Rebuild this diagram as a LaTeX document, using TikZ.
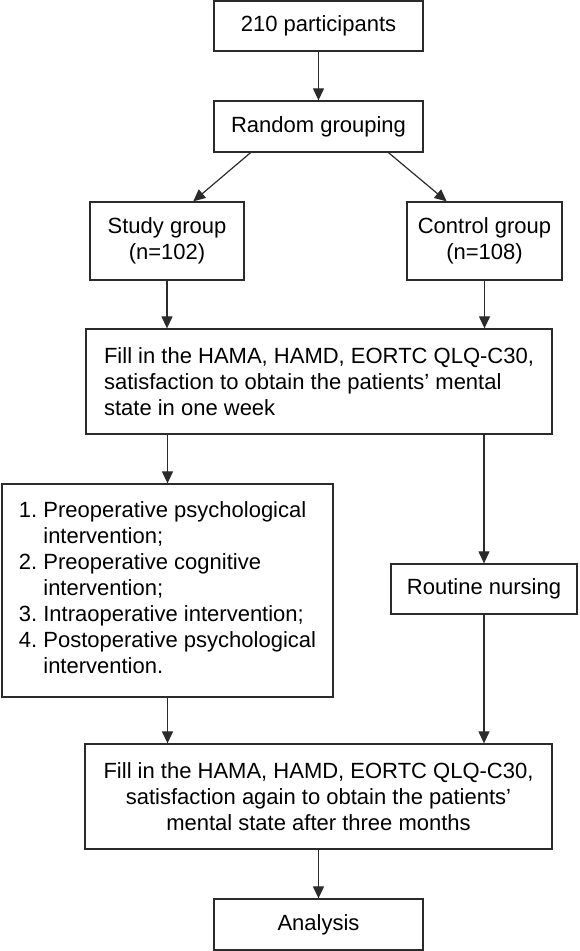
\documentclass[tikz,border=0pt]{standalone}
\usepackage{fontspec}
\setmainfont{Liberation Sans}
\usetikzlibrary{arrows.meta,calc}
\definecolor{linegray}{HTML}{2B2B2B}
\begin{document}
\begin{tikzpicture}[x=1pt,y=-1pt,
  box/.style={draw=linegray, line width=1.3pt, rectangle, inner sep=0pt,
    font=\fontsize{22}{26}\selectfont, text=black},
  arr/.style={draw=linegray, line width=1.2pt, -{Triangle[length=12pt,width=11pt]}}]
\useasboundingbox (0,0) rectangle (579,951);
\node[box, minimum width=209pt, minimum height=50pt] (p) at (318.5,26) {210 participants};
\node[box, minimum width=209pt, minimum height=51pt] (rg) at (318.5,126.5) {Random grouping};
\node[box, minimum width=154pt, minimum height=78pt, align=center] (sg) at (167,241) {Study group\\(n=102)};
\node[box, minimum width=155pt, minimum height=78pt, align=center] (cg) at (484.5,241) {Control group\\(n=108)};
\node[box, minimum width=466pt, minimum height=105pt, align=left] (f1) at (319,381.5)
  {Fill in the HAMA, HAMD, EORTC QLQ-C30,\\satisfaction to obtain the patients’ mental\\state in one week};
\node[box, minimum width=331pt, minimum height=213pt] (lst) at (167.5,590.5)
  {\begin{tabular}{@{}l@{\ }l@{}}
    1. & Preoperative psychological\\
       & intervention;\\
    2. & Preoperative cognitive\\
       & intervention;\\
    3. & Intraoperative intervention;\\
    4. & Postoperative psychological\\
       & intervention.
  \end{tabular}};
\node[box, minimum width=186pt, minimum height=50pt] (rn) at (484,589) {Routine nursing};
\node[box, minimum width=467pt, minimum height=105pt, align=center] (f2) at (318.5,796.5)
  {Fill in the HAMA, HAMD, EORTC QLQ-C30,\\satisfaction again to obtain the patients’\\mental state after three months};
\node[box, minimum width=209pt, minimum height=51pt] (an) at (318.5,924.5) {Analysis};

\draw[arr] (p) -- (rg);
\draw[arr] ($(rg.south west)!0.177!(rg.south east)$) -- ($(sg.north west)!0.669!(sg.north east)$);
\draw[arr] ($(rg.south west)!0.833!(rg.south east)$) -- ($(cg.north west)!0.258!(cg.north east)$);
\draw[arr] (sg.south) -- (sg.south |- f1.north);
\draw[arr] (cg.south) -- (cg.south |- f1.north);
\draw[arr] (lst.north |- f1.south) -- (lst.north);
\draw[arr] (rn.north |- f1.south) -- (rn.north);
\draw[arr] (lst.south) -- (lst.south |- f2.north);
\draw[arr] (rn.south) -- (rn.south |- f2.north);
\draw[arr] (f2) -- (an);
\end{tikzpicture}
\end{document}
